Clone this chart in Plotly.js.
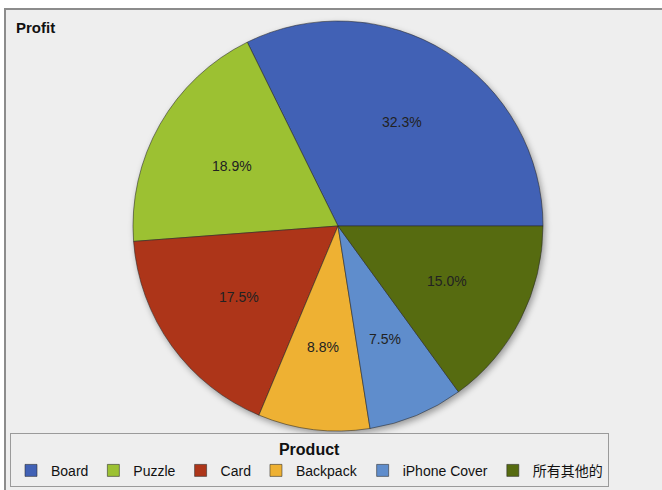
<!DOCTYPE html>
<html>
<head>
<meta charset="utf-8">
<script src="https://cdn.plot.ly/plotly-3.0.1.min.js"></script>
<style>
  html, body { margin: 0; padding: 0; background: #ffffff; }
  #frame { position: absolute; left: 4px; top: 8px; width: 658px; height: 482px;
           border-left: 2px solid #8c8c8c; border-top: 2px solid #8c8c8c; background: #eeeeee; }
  #chart { width: 656px; height: 480px; }
  .pielayer .trace { filter: drop-shadow(2px 3px 3px rgba(0,0,0,0.35)); }
</style>
</head>
<body>
<div id="frame"><div id="chart"></div></div>
<script>
const categories = ["Board", "Puzzle", "Card", "Backpack", "iPhone Cover", "所有其他的"];
const profitShare = [32.3, 18.9, 17.5, 8.8, 7.5, 15.0];
const sliceColors = ["#4161b5", "#9cc132", "#ad3519", "#eeb133", "#5f8dcc", "#566b10"];
const chartTitle = "Profit";
const legendTitle = "Product";

const W = 656, H = 480;
const cx = 332, cy = 216, R = 205;
const labelRadius = 0.595;

const fontFam = "Arial, 'Liberation Sans', 'Noto Sans CJK SC', sans-serif";

const total = profitShare.reduce((a, b) => a + b, 0);
// first slice ends at 3 o'clock, remaining slices continue counterclockwise
const startRotation = 90 - profitShare[0] / total * 360;

const trace = {
  type: "pie",
  labels: categories,
  values: profitShare,
  sort: false,
  direction: "counterclockwise",
  rotation: startRotation,
  marker: { colors: sliceColors, line: { color: "rgba(40,40,40,0.55)", width: 1 } },
  textinfo: "none",
  hoverinfo: "label+percent",
  domain: { x: [(cx - R) / W, (cx + R) / W], y: [(H - cy - R) / H, (H - cy + R) / H] }
};

// percentage labels at each slice's mid-angle (angles measured counterclockwise from 3 o'clock)
const annotations = [];
let cum = 0;
profitShare.forEach((v) => {
  const mid = (cum + v / 2) / total * 2 * Math.PI;
  cum += v;
  const px = cx + labelRadius * R * Math.cos(mid);
  const py = cy - labelRadius * R * Math.sin(mid);
  annotations.push({
    xref: "paper", yref: "paper",
    x: px / W, y: 1 - py / H,
    xanchor: "center", yanchor: "middle",
    text: (v / total * 100).toFixed(1) + "%",
    showarrow: false,
    font: { family: fontFam, size: 14, color: "#222222" }
  });
});

const layout = {
  width: W, height: H,
  margin: { l: 0, r: 0, t: 0, b: 0 },
  paper_bgcolor: "#eeeeee",
  plot_bgcolor: "#eeeeee",
  font: { family: fontFam, color: "#111111" },
  title: { text: "<b>" + chartTitle + "</b>", x: 10 / W, xanchor: "left", xref: "paper",
           y: 1 - 18 / H, yanchor: "middle", yref: "paper",
           font: { size: 15, family: fontFam, color: "#111111" } },
  annotations: annotations,
  showlegend: true,
  legend: {
    orientation: "h",
    x: 4 / W, xanchor: "left",
    y: 3 / H, yanchor: "bottom",
    bgcolor: "#eeeeee",
    bordercolor: "#9a9a9a", borderwidth: 1,
    font: { size: 14, family: fontFam, color: "#111111" },
    title: { text: "<b>" + legendTitle + "</b>", side: "top center",
             font: { size: 16, family: fontFam, color: "#111111" } },
    itemwidth: 30,
    tracegroupgap: 0,
    traceorder: "normal"
  }
};

Plotly.newPlot("chart", [trace], layout, { displayModeBar: false, staticPlot: true });
</script>
</body>
</html>
